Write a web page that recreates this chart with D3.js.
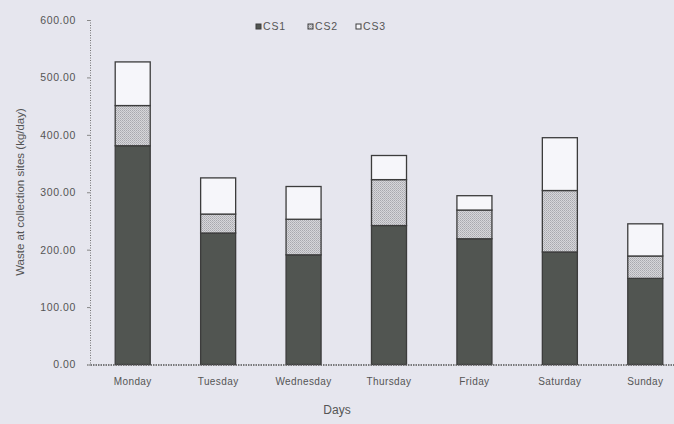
<!DOCTYPE html>
<html>
<head>
<meta charset="utf-8">
<script src="https://cdn.jsdelivr.net/npm/d3@7"></script>
<style>
  body { margin: 0; background: #e6e6ee; }
  svg { display: block; }
  text { font-family: "Liberation Sans", Arial, sans-serif; fill: #555; }
</style>
</head>
<body>
<div id="chart"></div>
<script>
// values (kg/day)
var days = ["Monday", "Tuesday", "Wednesday", "Thursday", "Friday", "Saturday", "Sunday"];
var seriesNames = ["CS1", "CS2", "CS3"];
var cs1 = [381, 229, 191, 242, 219, 196, 150];
var cs2 = [70, 33, 62, 80, 50, 107, 39];
var cs3 = [76, 63, 57, 42, 25, 92, 56];
var yTicks = [0, 100, 200, 300, 400, 500, 600];

var w = 674, h = 424;
var margin = {top: 20, right: -14, bottom: 59.5, left: 90};
var iw = w - margin.left - margin.right;
var ih = h - margin.top - margin.bottom;

var rows = days.map(function(d, i) {
  return {day: d, CS1: cs1[i], CS2: cs2[i], CS3: cs3[i]};
});
var stacked = d3.stack().keys(seriesNames)(rows);

var svg = d3.select("#chart").append("svg")
  .attr("width", w)
  .attr("height", h);

// dotted fill for CS2
var defs = svg.append("defs");
var pat = defs.append("pattern")
  .attr("id", "dots")
  .attr("width", 2).attr("height", 2)
  .attr("patternUnits", "userSpaceOnUse");
pat.append("rect").attr("width", 2).attr("height", 2).attr("fill", "#d6d6da");
pat.append("rect").attr("width", 1).attr("height", 1).attr("fill", "#a9a9ae");
pat.append("rect").attr("x", 1).attr("y", 1).attr("width", 1).attr("height", 1).attr("fill", "#b8b8bc");

var fills = {CS1: "#515551", CS2: "url(#dots)", CS3: "#f6f6fa"};

var g = svg.append("g")
  .attr("transform", "translate(" + margin.left + "," + margin.top + ")");

var x = d3.scaleBand().domain(days).range([0, iw]).paddingInner(0.59).paddingOuter(0.295);
var y = d3.scaleLinear().domain([0, 600]).range([ih, 0]);

// bars
g.selectAll(".layer")
  .data(stacked)
  .enter().append("g")
  .attr("class", "layer")
  .attr("fill", function(d) { return fills[d.key]; })
  .selectAll("rect")
  .data(function(d) { return d; })
  .enter().append("rect")
  .attr("x", function(d) { return x(d.data.day); })
  .attr("y", function(d) { return y(d[1]); })
  .attr("width", x.bandwidth())
  .attr("height", function(d) { return y(d[0]) - y(d[1]); })
  .attr("stroke", "#3c3c3c")
  .attr("stroke-width", 1.3);

// y axis
var yAxis = d3.axisLeft(y).tickValues(yTicks).tickSize(3).tickPadding(11)
  .tickFormat(d3.format(".2f"));
var ya = g.append("g").attr("class", "yaxis").call(yAxis);
ya.select(".domain").attr("stroke", "#777").attr("stroke-dasharray", "1,1.5");
ya.selectAll(".tick line").attr("stroke", "#888");
ya.selectAll("text").attr("font-size", "10.5px").attr("letter-spacing", "0.6px").style("fill", "#555");

// x axis
var xAxis = d3.axisBottom(x).tickSize(0).tickPadding(13);
var xa = g.append("g").attr("transform", "translate(0," + ih + ")").call(xAxis);
xa.select(".domain").attr("stroke", "#555").attr("stroke-width", 1.4).attr("stroke-dasharray", "1.5,1");
xa.selectAll("text").attr("font-size", "10px").attr("letter-spacing", "0.4px").style("fill", "#555");

// axis titles
svg.append("text")
  .attr("transform", "translate(24,192) rotate(-90)")
  .attr("text-anchor", "middle")
  .attr("font-size", "11.5px")
  .text("Waste at collection sites (kg/day)");

svg.append("text")
  .attr("x", 337).attr("y", 414)
  .attr("text-anchor", "middle")
  .attr("font-size", "12px")
  .text("Days");

// legend
var leg = svg.append("g").attr("transform", "translate(256,24)");
var legX = [0, 52, 100];
seriesNames.forEach(function(s, i) {
  var it = leg.append("g").attr("transform", "translate(" + legX[i] + ",0)");
  it.append("rect").attr("width", 5).attr("height", 5)
    .attr("fill", fills[s]).attr("stroke", "#3c3c3c").attr("stroke-width", 1);
  it.append("text").attr("x", 7).attr("y", 6)
    .attr("font-size", "10.5px").attr("letter-spacing", "0.8px").text(s);
});
</script>
</body>
</html>
